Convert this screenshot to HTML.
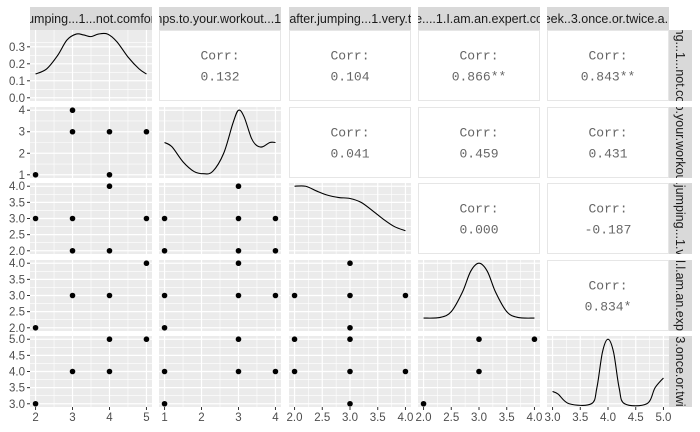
<!DOCTYPE html>
<html><head><meta charset="utf-8"><style>
body{margin:0;background:#fff;}
svg{display:block;font-family:"Liberation Sans",sans-serif;}
</style></head><body>
<svg id="c" width="700" height="432" viewBox="0 0 700 432"></svg>
<script>
const topLabels=["umping...1...not.comfor","nps.to.your.workout...1.",".after.jumping...1.very.ti","e....1.I.am.an.expert.co","eek..3.once.or.twice.a.r"];
const sideLabels=["ng...1...not.co","o.your.workou",".jumping...1.v","l.l.am.an.exp","3.once.or.twi"];
const varDomains=[[2,5],[1,4],[2,4],[2,4],[3,5]];
const xTickLabels=[["2","3","4","5"],["1","2","3","4"],["2.0","2.5","3.0","3.5","4.0"],["2.0","2.5","3.0","3.5","4.0"],["3.0","3.5","4.0","4.5","5.0"]];
const xTickVals=[[2,3,4,5],[1,2,3,4],[2,2.5,3,3.5,4],[2,2.5,3,3.5,4],[3,3.5,4,4.5,5]];
const row1TickVals=[0,0.1,0.2,0.3];
const row1TickLabels=["0.0","0.1","0.2","0.3"];
const corrValues={"0,1":"0.132","0,2":"0.104","0,3":"0.866**","0,4":"0.843**","1,2":"0.041","1,3":"0.459","1,4":"0.431","2,3":"0.000","2,4":"-0.187","3,4":"0.834*"};
const scatter={
"1,0":[[2,1],[3,4],[3,3],[4,3],[5,3],[4,1]],
"2,0":[[4,4],[2,3],[3,3],[5,3],[3,2],[4,2]],
"2,1":[[3,4],[1,3],[3,3],[4,3],[1,2],[3,2],[4,2]],
"3,0":[[5,4],[3,3],[4,3],[2,2]],
"3,1":[[3,4],[1,3],[3,3],[4,3],[1,2]],
"3,2":[[3,4],[2,3],[3,3],[4,3],[3,2]],
"4,0":[[4,5],[5,5],[3,4],[4,4],[2,3]],
"4,1":[[3,5],[1,4],[3,4],[4,4],[1,3]],
"4,2":[[2,5],[3,5],[2,4],[3,4],[4,4],[3,3]],
"4,3":[[3,5],[4,5],[3,4],[2,3]]};
const density0=[[2,0.14],[2.3,0.17],[2.6,0.25],[2.85,0.34],[3.1,0.375],[3.3,0.37],[3.5,0.36],[3.7,0.375],[3.95,0.375],[4.2,0.33],[4.5,0.24],[4.8,0.17],[5,0.14]];
const density1=[[1,2.5],[1.2,2.3],[1.5,1.6],[1.8,1.15],[2.05,1.05],[2.3,1.15],[2.6,2.0],[2.85,3.4],[3,4.0],[3.15,3.7],[3.35,2.7],[3.5,2.35],[3.65,2.3],[3.85,2.5],[4,2.5]];
const density2=[[2,4.0],[2.2,4.0],[2.4,3.85],[2.6,3.72],[2.8,3.65],[3,3.62],[3.2,3.5],[3.4,3.25],[3.6,2.98],[3.8,2.75],[4,2.62]];
const density3=[[2,2.3],[2.3,2.32],[2.5,2.5],[2.7,3.1],[2.85,3.75],[3,4.0],[3.15,3.75],[3.3,3.1],[3.5,2.5],[3.7,2.32],[4,2.3]];
const density4=[[3,3.38],[3.1,3.3],[3.3,3.0],[3.7,3.0],[3.8,3.5],[3.9,4.6],[4,5.0],[4.1,4.6],[4.2,3.5],[4.3,3.0],[4.7,3.0],[4.85,3.5],[5,3.8]];
const densities=[density0,density1,density2,density3,density4];

const colX=[30,159,289,418,547], W=122;
const rowY=[30,107,183,260,336], H=71;
const svg=document.getElementById('c');
const NS='http://www.w3.org/2000/svg';
function mk(t,a,p){const e=document.createElementNS(NS,t);for(const k in a)e.setAttribute(k,a[k]);(p||svg).appendChild(e);return e;}
function sc(d,r0,r1){const pad=(d[1]-d[0])*0.05;const a=d[0]-pad,b=d[1]+pad;return v=>r0+(v-a)/(b-a)*(r1-r0);}
const xs=varDomains.map((d,i)=>sc(d,colX[i],colX[i]+W));
const ys=varDomains.map((d,i)=>sc(d,rowY[i]+H,rowY[i]));
ys[0]=sc([0,0.38],rowY[0]+H,rowY[0]);
function yMajors(i){return i===0?row1TickVals:xTickVals[i];}
function minors(v){const o=[];for(let k=0;k<v.length-1;k++)o.push((v[k]+v[k+1])/2);return o;}
function ext(v){const s=v[1]-v[0];return [v[0]-s/2].concat(v,[v[v.length-1]+s/2]);}

for(let r=0;r<5;r++)for(let c=0;c<5;c++){
  const x0=colX[c],y0=rowY[r];
  const g=mk('g',{});
  
  
  if(c>r){
    mk('rect',{x:x0+0.5,y:y0+0.5,width:W-1,height:H-1,fill:'#fff',stroke:'#e6e6e6'},g);
    const t1=mk('text',{x:x0+W/2,y:y0+H/2-6,'text-anchor':'middle','font-family':'Liberation Mono,monospace','font-size':13,fill:'#666'},g);
    t1.textContent='Corr:';
    
    
    const t2=mk('text',{x:x0+W/2,y:y0+H/2+15,'text-anchor':'middle','font-family':'Liberation Mono,monospace','font-size':13,fill:'#666'},g);
    t2.textContent=corrValues[r+','+c];
    
    
    continue;
  }
  const cl='cp'+r+c;
  const cp=mk('clipPath',{id:cl},g);mk('rect',{x:x0,y:y0,width:W,height:H},cp);
  mk('rect',{x:x0,y:y0,width:W,height:H,fill:'#ebebeb'},g);
  const gg=mk('g',{'clip-path':'url(#'+cl+')'},g);
  const xv=xTickVals[c], yv=yMajors(r);
  minors(ext(xv)).forEach(v=>mk('line',{x1:xs[c](v),x2:xs[c](v),y1:y0,y2:y0+H,stroke:'#fff','stroke-width':0.6},gg));
  minors(ext(yv)).forEach(v=>mk('line',{y1:ys[r](v),y2:ys[r](v),x1:x0,x2:x0+W,stroke:'#fff','stroke-width':0.6},gg));
  xv.forEach(v=>mk('line',{x1:xs[c](v),x2:xs[c](v),y1:y0,y2:y0+H,stroke:'#fff','stroke-width':1.2},gg));
  yv.forEach(v=>mk('line',{y1:ys[r](v),y2:ys[r](v),x1:x0,x2:x0+W,stroke:'#fff','stroke-width':1.2},gg));
  if(r===c){
    const pts=densities[r].map(p=>[xs[c](p[0]),ys[r](p[1])]);
    let d='M'+pts[0][0]+','+pts[0][1];
    for(let k=0;k<pts.length-1;k++){const p0=pts[Math.max(0,k-1)],p1=pts[k],p2=pts[k+1],p3=pts[Math.min(pts.length-1,k+2)];
      d+=' C'+(p1[0]+(p2[0]-p0[0])/6)+','+(p1[1]+(p2[1]-p0[1])/6)+' '+(p2[0]-(p3[0]-p1[0])/6)+','+(p2[1]-(p3[1]-p1[1])/6)+' '+p2[0]+','+p2[1];}
    const pa=mk('path',{d:d,fill:'none',stroke:'#000','stroke-width':1.1},gg);
    
    
  } else {
    scatter[r+','+c].forEach(p=>{
      const ci=mk('circle',{cx:xs[c](p[0]),cy:ys[r](p[1]),r:2.8,fill:'#000'},g);
      
      
    });
  }
}
for(let c=0;c<5;c++){
  const cl='st'+c;const cp=mk('clipPath',{id:cl});mk('rect',{x:colX[c],y:7,width:W,height:23},cp);
  const g=mk('g',{'clip-path':'url(#'+cl+')'});
  
  
  mk('rect',{x:colX[c],y:7,width:W,height:23,fill:'#d9d9d9'},g);
  const t=mk('text',{x:colX[c]+W/2,y:23,'text-anchor':'middle','font-size':12.5,fill:'#1a1a1a'},g);
  t.textContent=topLabels[c];
}
for(let r=0;r<5;r++){
  const cl='ss'+r;const cp=mk('clipPath',{id:cl});mk('rect',{x:669,y:rowY[r],width:23,height:H},cp);
  const g=mk('g',{'clip-path':'url(#'+cl+')'});
  
  
  mk('rect',{x:669,y:rowY[r],width:23,height:H,fill:'#d9d9d9'},g);
  const cy=rowY[r]+H/2;
  const t=mk('text',{x:676,y:cy,'text-anchor':'middle','font-size':12.5,fill:'#1a1a1a',transform:'rotate(90 676 '+cy+')'},g);
  t.textContent=sideLabels[r];
}
for(let c=0;c<5;c++){
  const yb=rowY[4]+H;
  xTickVals[c].forEach((v,k)=>{
    mk('line',{x1:xs[c](v),x2:xs[c](v),y1:yb,y2:yb+3,stroke:'#333'});
    const t=mk('text',{x:xs[c](v),y:yb+14,'text-anchor':'middle','font-size':11.5,fill:'#4d4d4d'});
    t.textContent=xTickLabels[c][k];
    
    
  });
}
for(let r=0;r<5;r++){
  const vals=yMajors(r), labs=r===0?row1TickLabels:xTickLabels[r];
  vals.forEach((v,k)=>{
    mk('line',{x1:27,x2:30,y1:ys[r](v),y2:ys[r](v),stroke:'#333'});
    const t=mk('text',{x:25,y:ys[r](v)+4,'text-anchor':'end','font-size':11.5,fill:'#4d4d4d'});
    t.textContent=labs[k];
    
    
  });
}
</script>
</body></html>
